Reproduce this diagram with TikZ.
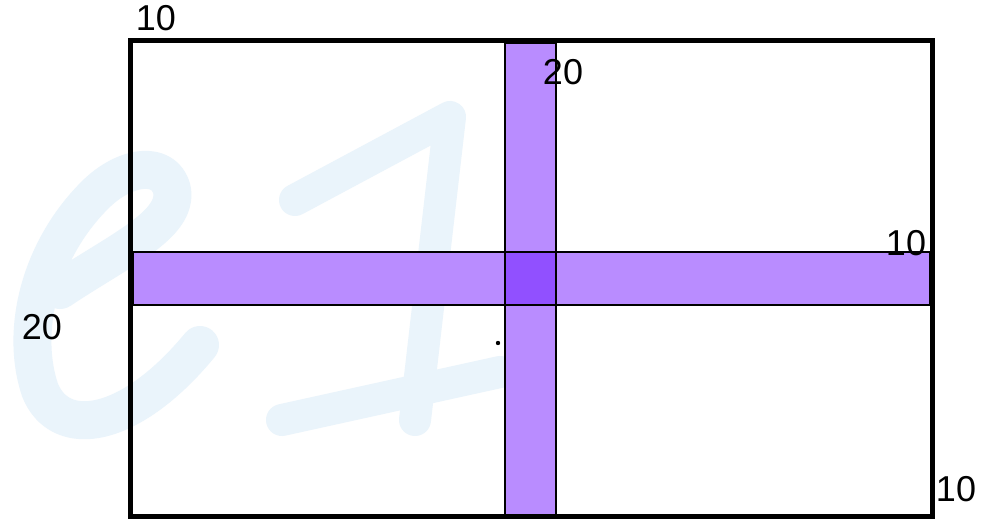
\documentclass[tikz,border=0pt]{standalone}
\usepackage{fontspec}
\setmainfont{Liberation Sans}
\definecolor{strip}{HTML}{B98CFF}
\definecolor{overlap}{HTML}{9150FF}
\definecolor{wm}{HTML}{EAF4FB}
\begin{document}
\begin{tikzpicture}[x=1pt,y=-1pt,
  lbl/.style={font=\fontsize{36}{36}\selectfont, inner sep=0pt},
  stripbox/.style={fill=strip, draw=black, line width=1.2pt},
  wmark/.style={draw=wm, line width=38pt, line cap=round, line join=round}]
\useasboundingbox (0,0) rectangle (983,521);
\fill[white] (0,0) rectangle (983,521);
% watermark (beneath)
\draw[wmark] (60,290) .. controls (120,250) and (178,225) .. (172,190)
  .. controls (165,160) and (125,165) .. (95,195)
  .. controls (40,250) and (20,330) .. (40,390)
  .. controls (60,440) and (130,430) .. (200,345);
\draw[wmark, line width=32pt] (295,200) -- (450,117) -- (415,420);
\draw[wmark, line width=32pt] (282,420) -- (500,372);
% strips
\draw[stripbox] (505,43) rectangle (556,517);
\draw[stripbox] (133,252) rectangle (930,305);
\fill[overlap] (505.6,252.6) rectangle (555.4,304.4);
\draw[line width=1.2pt] (505,252) rectangle (556,305);
% outer frame
\draw[line width=5pt] (130,41) rectangle (932,516);
% dot
\fill (498,343) circle (2.2pt);
% labels
\node[lbl] (t1) at (156,18) {10};
\node[lbl] (t2) at (563,72) {20};
\node[lbl] (t3) at (906,243) {10};
\node[lbl] (t4) at (956,489) {10};
\node[lbl] (t5) at (42,327) {20};
\end{tikzpicture}
\end{document}
